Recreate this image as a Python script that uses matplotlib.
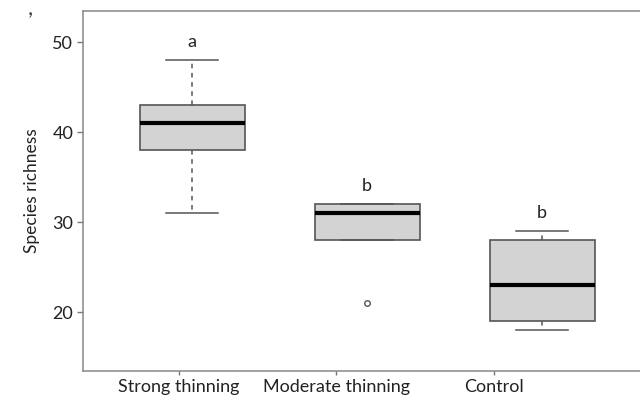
import numpy as np
import matplotlib.pyplot as plt

plt.rcParams['font.family'] = ['Lato', 'DejaVu Sans']

# treatment groups and box statistics (species richness)
groups = ['Strong thinning', 'Moderate thinning', 'Control']
whislo = [31, 28, 18]
q1 = [38, 28, 19]
med = [41, 31, 23]
q3 = [43, 32, 28]
whishi = [48, 32, 29]
fliers = [[], [21], []]
letters = ['a', 'b', 'b']

stats = []
for i in range(len(groups)):
    stats.append(dict(whislo=whislo[i], q1=q1[i], med=med[i], q3=q3[i],
                      whishi=whishi[i], fliers=fliers[i], label=groups[i]))

fig = plt.figure(figsize=(6.4, 3.97), dpi=100)
ax = fig.add_axes([83 / 640, 26 / 397, 567.5 / 640, 360 / 397])

pos = np.arange(1, len(groups) + 1)
edge = '#555555'
ax.bxp(stats, positions=pos, widths=0.6, patch_artist=True,
       boxprops=dict(facecolor='#d3d3d3', edgecolor=edge, linewidth=1.2),
       medianprops=dict(color='black', linewidth=3, solid_capstyle='butt'),
       whiskerprops=dict(color=edge, linewidth=1.1, linestyle=(0, (3, 3))),
       capprops=dict(color=edge, linewidth=1.1),
       capwidths=0.3,
       flierprops=dict(marker='o', markersize=4, markerfacecolor='none',
                       markeredgecolor=edge, markeredgewidth=1.0))

for i in range(len(groups)):
    ax.text(pos[i], whishi[i] + 2, letters[i], ha='center', va='center',
            fontsize=13, color='#222222')

ax.set_xlim(0.377, 3.62)
ax.set_ylim(13.48, 53.48)
ax.set_yticks([20, 30, 40, 50])
# group labels sit a little left of the boxes
ax.set_xticks([0.926, 1.823, 2.726])
ax.set_xticklabels(groups)
ax.tick_params(axis='both', direction='out', length=4, width=1,
               color='#777777', labelsize=13, labelcolor='#222222', pad=3)
ax.tick_params(axis='x', length=3, pad=3)
for s in ax.spines.values():
    s.set_color('#888888')
    s.set_linewidth(1.1)
ax.set_ylabel('Species richness', fontsize=12.5, color='#222222', labelpad=9)

fig.text(30 / 640, 1 - 9 / 397, ',', fontsize=16, color='#444444',
         ha='center', va='center')

fig.savefig('out.png', dpi=100)
